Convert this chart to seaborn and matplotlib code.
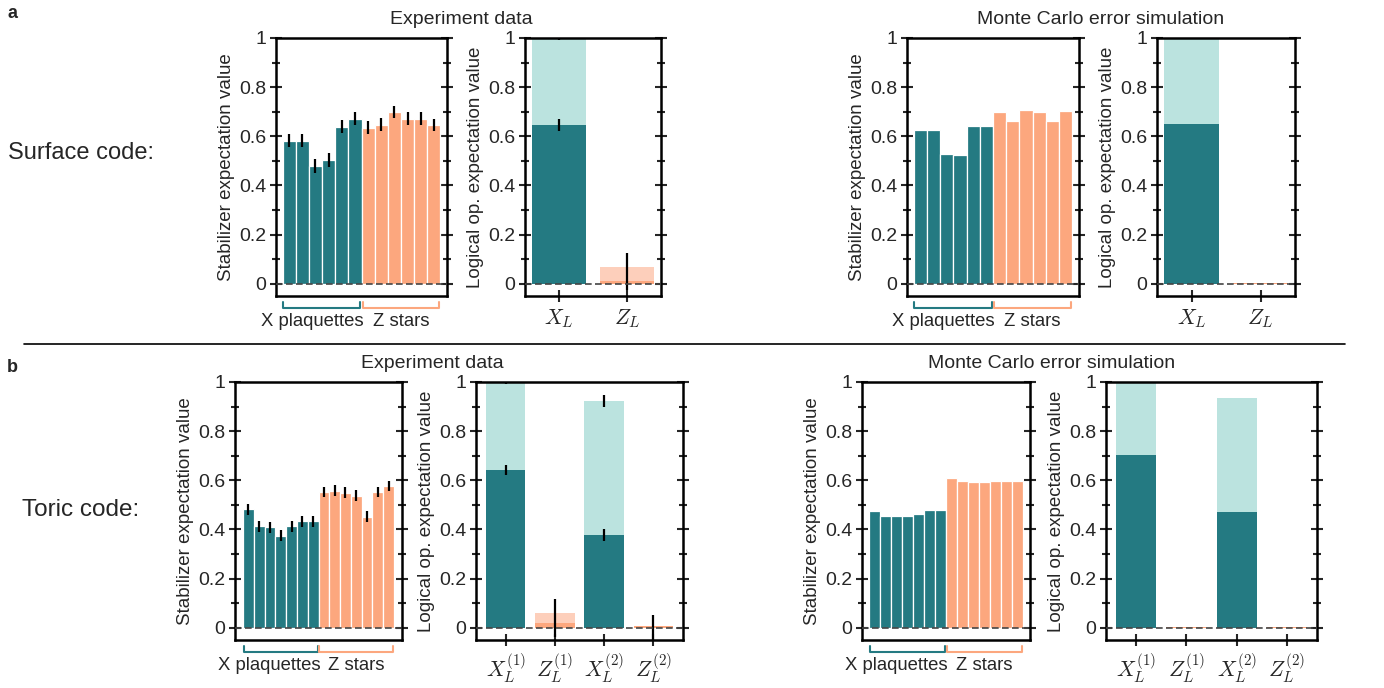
import numpy as np
import pandas as pd
import matplotlib
matplotlib.use("Agg")
import matplotlib.pyplot as plt
import seaborn as sns
from matplotlib.lines import Line2D
from matplotlib.ticker import MultipleLocator, FuncFormatter

# ---- data ----
# surface code, experiment
surf_exp_x = [0.582, 0.582, 0.478, 0.505, 0.639, 0.672]
surf_exp_z = [0.635, 0.647, 0.700, 0.672, 0.672, 0.647]
surf_exp_err = [0.027, 0.027, 0.028, 0.028, 0.026, 0.025,
                0.026, 0.026, 0.025, 0.025, 0.025, 0.025]
surf_log_labels = [r"$X_L$", r"$Z_L$"]
surf_exp_log_total = [1.0, 0.07]
surf_exp_log_val = [0.647, 0.013]
surf_exp_log_err_lo = [0.025, 0.04]
surf_exp_log_err_hi = [0.025, 0.11]
surf_exp_log_total_err = [0.01, 0.0]

# surface code, Monte Carlo
surf_mc_x = [0.627, 0.627, 0.529, 0.525, 0.643, 0.643]
surf_mc_z = [0.700, 0.663, 0.708, 0.700, 0.663, 0.704]
surf_mc_log_total = [1.0, 0.003]
surf_mc_log_val = [0.651, 0.003]

# toric code, experiment
tor_exp_x = [0.482, 0.412, 0.409, 0.374, 0.412, 0.433, 0.433]
tor_exp_z = [0.552, 0.557, 0.549, 0.537, 0.452, 0.552, 0.577]
tor_exp_err = [0.022] * 14
tor_log_labels = [r"$X_L^{(1)}$", r"$Z_L^{(1)}$", r"$X_L^{(2)}$", r"$Z_L^{(2)}$"]
tor_exp_log_total = [1.0, 0.058, 0.924, 0.007]
tor_exp_log_val = [0.641, 0.019, 0.376, 0.005]
tor_exp_log_err_lo = [0.02, 0.056, 0.025, 0.06]
tor_exp_log_err_hi = [0.02, 0.098, 0.025, 0.047]
tor_exp_log_total_err = [0.01, 0.0, 0.025, 0.0]

# toric code, Monte Carlo
tor_mc_x = [0.476, 0.455, 0.455, 0.455, 0.463, 0.480, 0.480]
tor_mc_z = [0.610, 0.598, 0.594, 0.594, 0.598, 0.598, 0.598]
tor_mc_log_total = [1.0, 0.003, 0.935, 0.003]
tor_mc_log_val = [0.704, 0.003, 0.471, 0.003]

TEAL = "#247A82"
TEAL_L = "#BBE3DF"
ORANGE = "#FCA77E"
ORANGE_L = "#FDCFBB"

sns.set_style("ticks")
plt.rcParams["font.family"] = ["Liberation Sans", "DejaVu Sans"]
plt.rcParams["mathtext.fontset"] = "cm"

W, H = 1384, 688
fig = plt.figure(figsize=(W / 100, H / 100), dpi=100)


def px_axes(left, right, top, bottom):
    return fig.add_axes([left / W, 1 - bottom / H, (right - left) / W, (bottom - top) / H])


def style_y(ax):
    ax.set_ylim(-0.05, 1.0)
    ax.yaxis.set_major_locator(MultipleLocator(0.2))
    ax.yaxis.set_minor_locator(MultipleLocator(0.1))
    ax.yaxis.set_major_formatter(FuncFormatter(
        lambda v, p: "0" if abs(v) < 1e-9 else ("1" if abs(v - 1) < 1e-9 else f"{v:.1f}")))
    ax.tick_params(axis="y", which="both", direction="inout", left=True, right=True,
                   width=1.5, labelsize=14, pad=3)
    ax.tick_params(axis="y", which="major", length=8)
    ax.tick_params(axis="y", which="minor", length=6)
    for s in ax.spines.values():
        s.set_linewidth(1.8)
        s.set_color("black")
        s.set_visible(True)
    ax.axhline(0, color="#444444", ls=(0, (4, 2)), lw=1.2, zorder=6)


def stabilizer_panel(ax, xs, zs, err=None, margin=1.0):
    n = len(xs) + len(zs)
    df = pd.DataFrame({"pos": np.arange(n), "val": xs + zs,
                       "kind": ["X"] * len(xs) + ["Z"] * len(zs)})
    sns.barplot(data=df, x="pos", y="val", hue="kind", palette={"X": TEAL, "Z": ORANGE},
                dodge=False, width=1.0, saturation=1, edgecolor="white", linewidth=0.9,
                errorbar=None, legend=False, ax=ax)
    if err is not None:
        ax.errorbar(df["pos"], df["val"], yerr=err, fmt="none", ecolor="black",
                    elinewidth=1.6, capsize=0, zorder=5)
    ax.set_xlim(-0.5 - margin, n - 0.5 + margin)
    ax.set_xticks([])
    ax.set_xlabel("")
    ax.set_ylabel("Stabilizer expectation value", fontsize=13.5, labelpad=3)
    style_y(ax)
    # group brackets below the axis
    tr = ax.get_xaxis_transform()
    nx = len(xs)
    for (a, b, c) in [(-0.45, nx - 0.58, TEAL), (nx - 0.42, n - 0.6, ORANGE)]:
        ax.plot([a, a, b, b], [-0.025, -0.045, -0.045, -0.025], color=c, lw=1.5,
                transform=tr, clip_on=False)
    ax.text(nx - 0.34, -0.1, "X plaquettes", transform=tr, ha="right", va="center", fontsize=13.3)
    ax.text((nx + n) / 2 - 0.5, -0.1, "Z stars", transform=tr, ha="center", va="center",
            fontsize=13.3)


def logical_panel(ax, labels, total, val, err_lo=None, err_hi=None, total_err=None, xpad=0.5):
    kinds = ["X" if l.startswith(r"$X") else "Z" for l in labels]
    df = pd.DataFrame({"op": labels, "total": total, "val": val, "kind": kinds})
    sns.barplot(data=df, x="op", y="total", hue="kind", order=labels,
                palette={"X": TEAL_L, "Z": ORANGE_L}, dodge=False, width=0.8,
                saturation=1, linewidth=0, errorbar=None, legend=False, ax=ax)
    sns.barplot(data=df, x="op", y="val", hue="kind", order=labels,
                palette={"X": TEAL, "Z": ORANGE}, dodge=False, width=0.8,
                saturation=1, linewidth=0, errorbar=None, legend=False, ax=ax)
    pos = np.arange(len(labels))
    if err_lo is not None:
        ax.errorbar(pos, val, yerr=[err_lo, err_hi], fmt="none", ecolor="black",
                    elinewidth=1.6, capsize=0, zorder=5)
    if total_err is not None:
        ax.errorbar(pos, total, yerr=total_err, fmt="none", ecolor="black",
                    elinewidth=1.6, capsize=0, zorder=5)
    ax.set_xlim(-xpad, len(labels) - 1 + xpad)
    ax.set_xlabel("")
    ax.set_ylabel("Logical op. expectation value", fontsize=13.5, labelpad=3)
    ax.tick_params(axis="x", direction="inout", length=8, width=1.5, labelsize=15.5, pad=4)
    style_y(ax)


# ---- panel a: surface code ----
ax = px_axes(276, 447, 38, 296)
stabilizer_panel(ax, surf_exp_x, surf_exp_z, surf_exp_err, margin=0.5)
ax = px_axes(525, 661, 38, 296)
logical_panel(ax, surf_log_labels, surf_exp_log_total, surf_exp_log_val,
              surf_exp_log_err_lo, surf_exp_log_err_hi, surf_exp_log_total_err)
ax = px_axes(907, 1079, 38, 296)
stabilizer_panel(ax, surf_mc_x, surf_mc_z, margin=0.5)
ax = px_axes(1157, 1295, 38, 296)
logical_panel(ax, surf_log_labels, surf_mc_log_total, surf_mc_log_val)

# ---- panel b: toric code ----
ax = px_axes(235, 402, 382, 640)
stabilizer_panel(ax, tor_exp_x, tor_exp_z, tor_exp_err, margin=0.75)
ax = px_axes(476, 683, 382, 640)
logical_panel(ax, tor_log_labels, tor_exp_log_total, tor_exp_log_val,
              tor_exp_log_err_lo, tor_exp_log_err_hi, tor_exp_log_total_err, xpad=0.6)
ax = px_axes(862, 1030, 382, 640)
stabilizer_panel(ax, tor_mc_x, tor_mc_z, margin=0.65)
ax = px_axes(1106, 1317, 382, 640)
logical_panel(ax, tor_log_labels, tor_mc_log_total, tor_mc_log_val, xpad=0.6)

# ---- figure text ----
def ftext(x, y, s, **kw):
    fig.text(x / W, 1 - y / H, s, **kw)

ftext(461, 20, "Experiment data", ha="center", va="center", fontsize=14)
ftext(1101, 20, "Monte Carlo error simulation", ha="center", va="center", fontsize=14)
ftext(432, 363, "Experiment data", ha="center", va="center", fontsize=14)
ftext(1052, 363, "Monte Carlo error simulation", ha="center", va="center", fontsize=14)
ftext(8, 153, "Surface code:", ha="left", va="center", fontsize=17)
ftext(22, 510, "Toric code:", ha="left", va="center", fontsize=17.5)
ftext(7, 14, "a", ha="left", va="center", fontsize=13, fontweight="bold")
ftext(7, 368, "b", ha="left", va="center", fontsize=13, fontweight="bold")
fig.add_artist(Line2D([24 / W, 1345 / W], [1 - 344 / H, 1 - 344 / H], color="black", lw=1.2))

fig.savefig("out.png", dpi=100)
